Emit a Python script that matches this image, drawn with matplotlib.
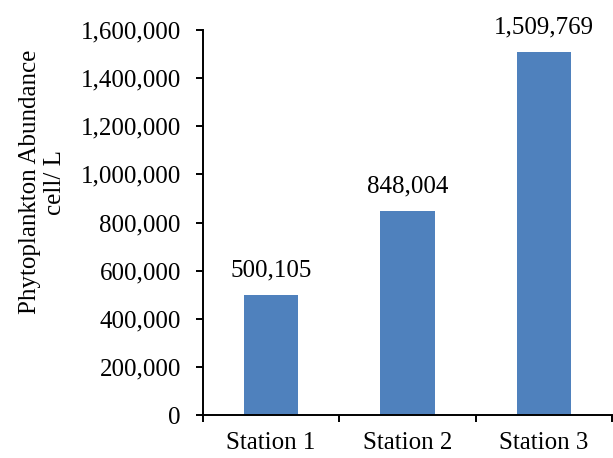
import numpy as np
import matplotlib.pyplot as plt
from matplotlib.ticker import FuncFormatter, FixedLocator

stations = ["Station 1", "Station 2", "Station 3"]
abundance = [500105, 848004, 1509769]

plt.rcParams['font.family'] = ['Liberation Serif', 'DejaVu Serif']
fs = 18

fig = plt.figure(figsize=(6.13, 4.58), dpi=100)
ax = fig.add_axes([203 / 613, 43 / 458, 409 / 613, 385 / 458])

x = np.arange(len(stations))
ax.bar(x, abundance, width=0.4, color="#4F81BD")

# value labels above each bar
for xi, v in zip(x, abundance):
    ax.annotate(f"{v:,}", (xi, v), xytext=(0, 13), textcoords="offset points",
                ha="center", va="baseline", fontsize=fs)

ax.set_xlim(-0.5, len(stations) - 0.5)
ax.set_ylim(0, 1600000)
ax.set_yticks(np.arange(0, 1600001, 200000))
ax.yaxis.set_major_formatter(FuncFormatter(lambda v, p: f"{int(v):,}"))

# category labels centered, tick marks on category boundaries
ax.set_xticks(x)
ax.set_xticklabels(stations)
ax.xaxis.set_minor_locator(FixedLocator(np.arange(-0.5, len(stations), 1.0)))
ax.tick_params(axis="x", which="major", length=0, pad=12, labelsize=fs)
ax.tick_params(axis="x", which="minor", length=5, width=1.4, direction="out")
ax.tick_params(axis="y", length=5, width=1.4, direction="out", pad=11, labelsize=fs)

for s in ["top", "right"]:
    ax.spines[s].set_visible(False)
ax.spines["left"].set_linewidth(1.4)
ax.spines["bottom"].set_linewidth(1.4)

ax.set_ylabel("Phytoplankton Abundance\ncell/ L", fontsize=fs, linespacing=1.15)
ax.yaxis.set_label_coords(-0.336, 0.605)

fig.savefig("out.png", dpi=100)
